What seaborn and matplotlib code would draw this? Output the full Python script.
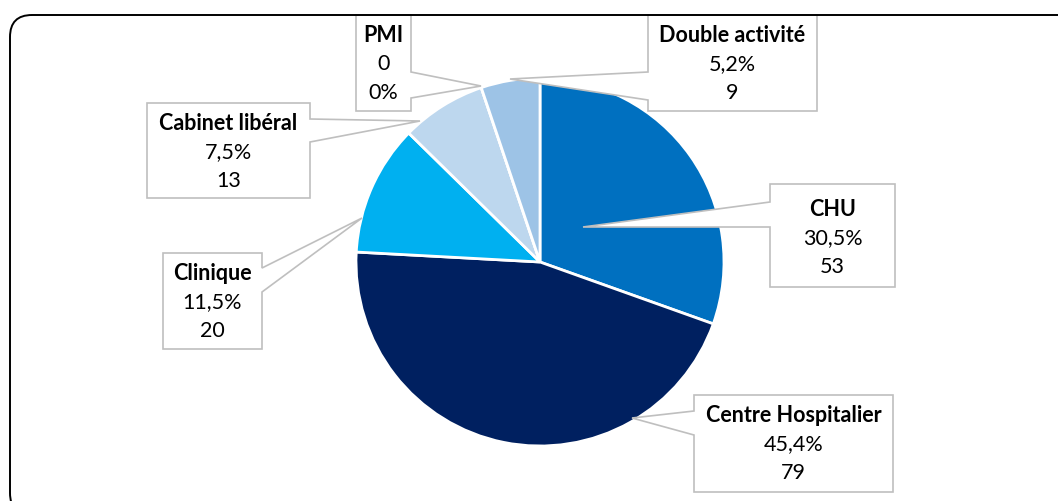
import matplotlib.pyplot as plt
import seaborn as sns
from matplotlib.patches import Polygon, FancyBboxPatch

labels = ["CHU", "Centre Hospitalier", "Clinique", "Cabinet libéral", "PMI", "Double activité"]
counts = [53, 79, 20, 13, 0, 9]
colors = ["#0070C0", "#002060", "#00B0F0", "#BDD7EE", "#A5C8EA", "#9DC3E6"]

# callout layout in pixels (from top-left): box, side of pointer, pointer base y's, tip
boxes = [(770, 184, 895, 287), (694, 395, 893, 492), (163, 253, 262, 349),
         (147, 103, 310, 198), (356, 15, 411, 111), (648, 15, 817, 111)]
sides = ["left", "left", "right", "right", "right", "left"]
bases = [(202, 227), (411, 435), (268, 292), (119, 142), (72, 98), (72, 100)]
tips = [(583, 227), (632, 418), (362, 218), (420, 121), (481, 86), (510, 79)]
first_line = [209, 415, 273, 123, 35, 35]

W, H = 1058, 501

sns.set_theme(style="white")
plt.rcParams["font.family"] = ["Lato", "DejaVu Sans"]

fig = plt.figure(figsize=(W / 100, H / 100), dpi=100)
ax = fig.add_axes([0, 0, 1, 1])

def py(y):
    return H - y

ax.pie(counts, colors=colors, startangle=90, counterclock=False,
       center=(540, py(262)), radius=184, frame=True,
       wedgeprops=dict(edgecolor="white", linewidth=2))
ax.set_xlim(0, W)
ax.set_ylim(0, H)
ax.axis("off")

total = sum(counts)
for i, lab in enumerate(labels):
    x0, y0, x1, y1 = boxes[i]
    b1, b2 = bases[i]
    tx, ty = tips[i]
    if sides[i] == "right":
        pts = [(x0, y0), (x1, y0), (x1, b1), (tx, ty), (x1, b2), (x1, y1), (x0, y1)]
    else:
        pts = [(x0, y0), (x1, y0), (x1, y1), (x0, y1), (x0, b2), (tx, ty), (x0, b1)]
    pts = [(x, py(y)) for x, y in pts]
    ax.add_patch(Polygon(pts, closed=True, facecolor="white", edgecolor="#BFBFBF",
                         linewidth=1.2, zorder=5))
    n = counts[i]
    pct = n / total * 100
    pct_txt = "0%" if n == 0 else f"{pct:.1f}%".replace(".", ",")
    lines = [pct_txt, str(n)]
    if n == 0:
        lines = [str(n), pct_txt]
    cx = (x0 + x1) / 2
    yy = first_line[i]
    ax.text(cx, py(yy), lab, ha="center", va="center", fontsize=15.5,
            fontweight="bold", color="black", zorder=6)
    for k, t in enumerate(lines):
        ax.text(cx, py(yy + 29 * (k + 1)), t, ha="center", va="center",
                fontsize=15.5, color="black", zorder=6)

border = FancyBboxPatch((10, py(515)), 1080, 500, boxstyle="round,pad=0,rounding_size=22",
                        facecolor="none", edgecolor="black", linewidth=1.4, zorder=7,
                        clip_on=False)
ax.add_patch(border)

fig.savefig("out.png", dpi=100)
